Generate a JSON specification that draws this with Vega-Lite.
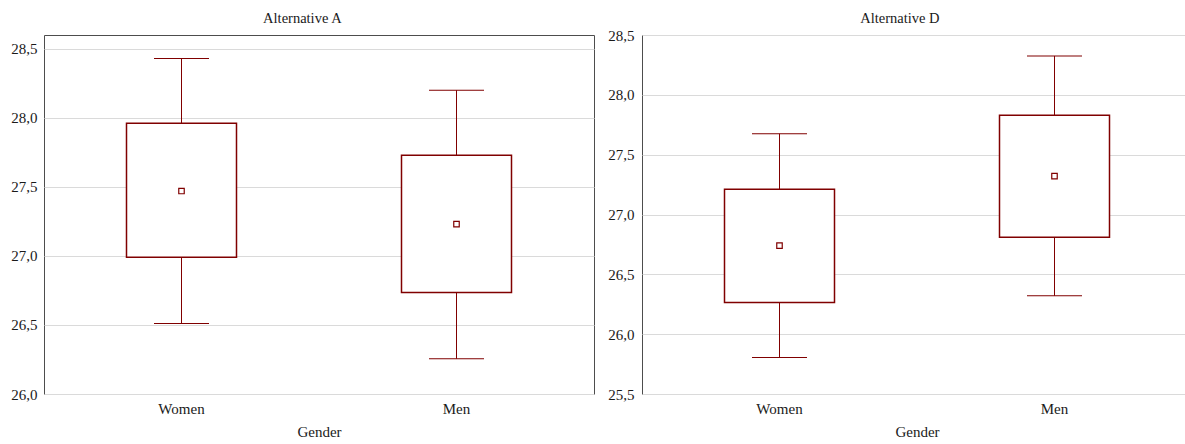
{
  "$schema": "https://vega.github.io/schema/vega-lite/v6.json",
  "padding": {"left": 10, "top": 10, "right": 0, "bottom": 0},
  "background": "white",
  "spacing": 12,
  "config": {
    "font": "Liberation Serif",
    "view": {"stroke": "#4d4d4d", "strokeWidth": 1},
    "axis": {
      "labelFont": "Liberation Serif",
      "titleFont": "Liberation Serif",
      "labelFontSize": 15,
      "titleFontSize": 15,
      "labelColor": "#1a1a1a",
      "titleColor": "#1a1a1a",
      "titleFontWeight": "normal",
      "domain": false,
      "gridColor": "#dadada",
      "gridWidth": 1
    },
    "title": {"font": "Liberation Serif", "fontSize": 14.5, "fontWeight": "normal", "color": "#1a1a1a", "anchor": "middle", "frame": "bounds", "baseline": "alphabetic"}
  },
  "datasets": {
    "d": [
      {"alt": "A", "gender": "Women", "lo": 26.51, "q1": 26.99, "mean": 27.47, "q3": 27.96, "hi": 28.43},
      {"alt": "A", "gender": "Men", "lo": 26.255, "q1": 26.735, "mean": 27.23, "q3": 27.73, "hi": 28.2},
      {"alt": "D", "gender": "Women", "lo": 25.805, "q1": 26.265, "mean": 26.74, "q3": 27.21, "hi": 27.675},
      {"alt": "D", "gender": "Men", "lo": 26.32, "q1": 26.81, "mean": 27.32, "q3": 27.83, "hi": 28.325}
    ]
  },
  "hconcat": [
    {
      "title": {"text": "Alternative A", "offset": 9},
      "width": 550,
      "height": 359,
      "data": {"name": "d"},
      "transform": [{"filter": "datum.alt === 'A'"}],
      "encoding": {
        "x": {
          "field": "gender", "type": "nominal", "sort": ["Women", "Men"],
          "scale": {"type": "band", "paddingInner": 0, "paddingOuter": 0},
          "axis": {"title": "Gender", "labelFont": "Liberation Serif", "titleFont": "Liberation Serif", "labelAngle": 0, "ticks": false, "labelPadding": 7, "titlePadding": 8, "grid": false}
        }
      },
      "layer": [
        {
          "mark": {"type": "rule", "color": "#800000", "strokeWidth": 1},
          "encoding": {
            "y": {"field": "lo", "type": "quantitative", "title": null,
              "scale": {"domain": [26, 28.6], "nice": false, "zero": false},
              "axis": {"values": [26, 26.5, 27, 27.5, 28, 28.5], "labelFont": "Liberation Serif", "ticks": false, "labelPadding": 7, "grid": true,
                "labelExpr": "replace(format(datum.value, '.1f'), '.', ',')"}},
            "y2": {"field": "hi"}
          }
        },
        {
          "mark": {"type": "tick", "color": "#800000", "thickness": 1, "size": 55, "opacity": 1},
          "encoding": {"y": {"field": "lo", "type": "quantitative", "title": null}}
        },
        {
          "mark": {"type": "tick", "color": "#800000", "thickness": 1, "size": 55, "opacity": 1},
          "encoding": {"y": {"field": "hi", "type": "quantitative", "title": null}}
        },
        {
          "mark": {"type": "bar", "fill": "white", "stroke": "#800000", "strokeWidth": 1.5, "size": 110},
          "encoding": {"y": {"field": "q1", "type": "quantitative", "title": null}, "y2": {"field": "q3"}}
        },
        {
          "mark": {"type": "point", "shape": "square", "filled": false, "color": "#800000", "size": 30, "strokeWidth": 1.2, "opacity": 1},
          "encoding": {"y": {"field": "mean", "type": "quantitative", "title": null}}
        }
      ]
    },
    {
      "title": {"text": "Alternative D", "offset": 2},
      "width": 550,
      "height": 359,
      "data": {"name": "d"},
      "transform": [{"filter": "datum.alt === 'D'"}],
      "encoding": {
        "x": {
          "field": "gender", "type": "nominal", "sort": ["Women", "Men"],
          "scale": {"type": "band", "paddingInner": 0, "paddingOuter": 0},
          "axis": {"title": "Gender", "labelFont": "Liberation Serif", "titleFont": "Liberation Serif", "labelAngle": 0, "ticks": false, "labelPadding": 7, "titlePadding": 8, "grid": false}
        }
      },
      "layer": [
        {
          "mark": {"type": "rule", "color": "#800000", "strokeWidth": 1},
          "encoding": {
            "y": {"field": "lo", "type": "quantitative", "title": null,
              "scale": {"domain": [25.5, 28.5], "nice": false, "zero": false},
              "axis": {"values": [25.5, 26, 26.5, 27, 27.5, 28, 28.5], "labelFont": "Liberation Serif", "ticks": false, "labelPadding": 8, "grid": true,
                "labelExpr": "replace(format(datum.value, '.1f'), '.', ',')"}},
            "y2": {"field": "hi"}
          }
        },
        {
          "mark": {"type": "tick", "color": "#800000", "thickness": 1, "size": 55, "opacity": 1},
          "encoding": {"y": {"field": "lo", "type": "quantitative", "title": null}}
        },
        {
          "mark": {"type": "tick", "color": "#800000", "thickness": 1, "size": 55, "opacity": 1},
          "encoding": {"y": {"field": "hi", "type": "quantitative", "title": null}}
        },
        {
          "mark": {"type": "bar", "fill": "white", "stroke": "#800000", "strokeWidth": 1.5, "size": 110},
          "encoding": {"y": {"field": "q1", "type": "quantitative", "title": null}, "y2": {"field": "q3"}}
        },
        {
          "mark": {"type": "point", "shape": "square", "filled": false, "color": "#800000", "size": 30, "strokeWidth": 1.2, "opacity": 1},
          "encoding": {"y": {"field": "mean", "type": "quantitative", "title": null}}
        }
      ]
    }
  ]
}
